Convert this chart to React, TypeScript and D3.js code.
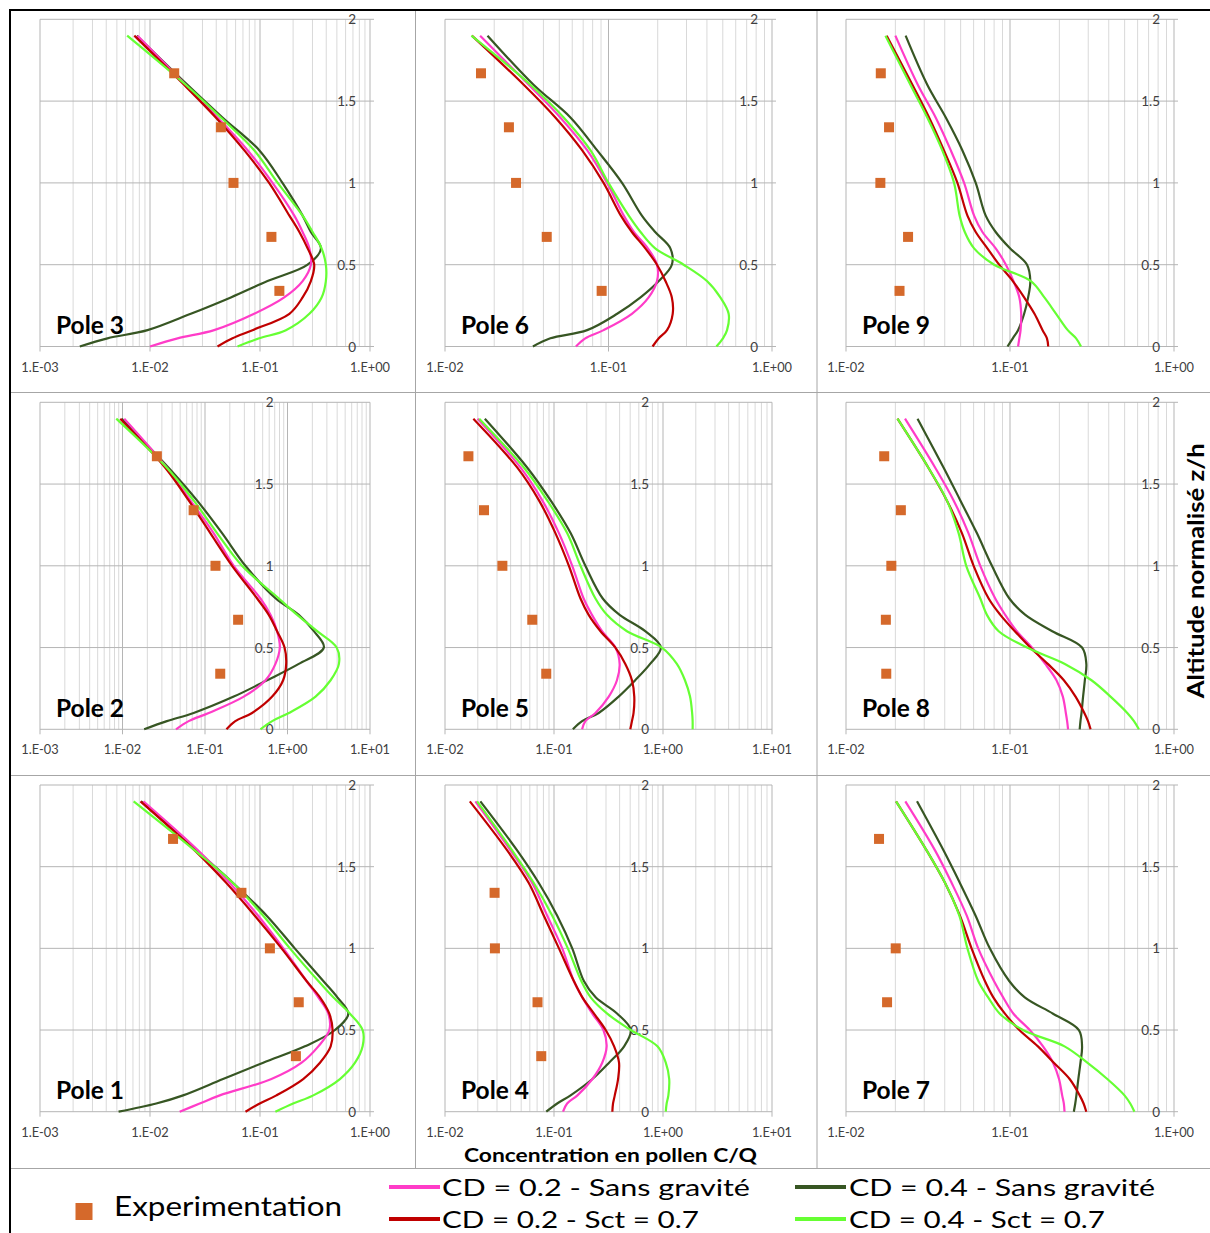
import React from "react";
import * as d3 from "d3";

// ---------- DATA ----------
// Altitude levels (z/h) at which the simulated profiles were read
const ALTITUDES = [0, 0.05, 0.1, 0.2, 0.3, 0.4, 0.5, 0.6, 0.7, 0.8, 1.0, 1.2, 1.4, 1.6, 1.9];
// Altitudes of the experimental measurements
const EXP_ALTITUDES = [0.34, 0.67, 1.0, 1.34, 1.67];

const SERIES_NAMES = [
  "CD = 0.2 - Sans gravité",
  "CD = 0.4 - Sans gravité",
  "CD = 0.2 - Sct = 0.7",
  "CD = 0.4 - Sct = 0.7",
];
const EXP_NAME = "Experimentation";

// Pole 3
const POLE3_CD02_SANS = [0.0100, 0.0178, 0.0383, 0.0885, 0.166, 0.244, 0.290, 0.281, 0.244, 0.205, 0.130, 0.0771, 0.0411, 0.0211, 0.0077];
const POLE3_CD04_SANS = [0.0023, 0.0041, 0.0095, 0.0235, 0.0543, 0.117, 0.271, 0.358, 0.290, 0.244, 0.160, 0.0984, 0.0456, 0.0219, 0.0076];
const POLE3_CD02_SCT = [0.0411, 0.0563, 0.0855, 0.185, 0.244, 0.290, 0.311, 0.271, 0.228, 0.185, 0.121, 0.0718, 0.0396, 0.0204, 0.0072];
const POLE3_CD04_SCT = [0.0625, 0.0984, 0.172, 0.281, 0.363, 0.397, 0.397, 0.363, 0.301, 0.244, 0.145, 0.0885, 0.0441, 0.0211, 0.0062];
const POLE3_EXP = [0.150, 0.127, 0.0574, 0.0441, 0.0166];

// Pole 6
const POLE6_CD02_SANS = [0.0632, 0.0721, 0.0933, 0.139, 0.176, 0.198, 0.198, 0.174, 0.143, 0.124, 0.0980, 0.0740, 0.0507, 0.0325, 0.0164];
const POLE6_CD04_SANS = [0.0345, 0.0441, 0.0740, 0.113, 0.157, 0.203, 0.244, 0.239, 0.193, 0.160, 0.121, 0.0851, 0.0585, 0.0348, 0.0182];
const POLE6_CD02_SCT = [0.186, 0.203, 0.228, 0.247, 0.244, 0.223, 0.198, 0.168, 0.139, 0.119, 0.0933, 0.0689, 0.0473, 0.0303, 0.0146];
const POLE6_CD04_SCT = [0.457, 0.501, 0.531, 0.543, 0.483, 0.400, 0.288, 0.193, 0.157, 0.133, 0.100, 0.0775, 0.0532, 0.0333, 0.0145];
const POLE6_EXP = [0.0908, 0.0419, 0.0272, 0.0246, 0.0166];

// Pole 9
const POLE9_CD02_SANS = [0.112, 0.114, 0.116, 0.117, 0.114, 0.105, 0.0944, 0.0818, 0.0679, 0.0604, 0.0525, 0.0435, 0.0352, 0.0274, 0.0200];
const POLE9_CD04_SANS = [0.0966, 0.104, 0.112, 0.122, 0.129, 0.133, 0.127, 0.100, 0.0818, 0.0711, 0.0618, 0.0512, 0.0406, 0.0313, 0.0231];
const POLE9_CD02_SCT = [0.171, 0.168, 0.158, 0.141, 0.122, 0.104, 0.0859, 0.0728, 0.0618, 0.0550, 0.0478, 0.0395, 0.0321, 0.0254, 0.0177];
const POLE9_CD04_SCT = [0.271, 0.253, 0.225, 0.191, 0.162, 0.134, 0.0800, 0.0604, 0.0530, 0.0493, 0.0456, 0.0386, 0.0313, 0.0247, 0.0174];
const POLE9_EXP = [0.0212, 0.0239, 0.0162, 0.0183, 0.0163];

// Pole 2
const POLE2_CD02_SANS = [0.0445, 0.0634, 0.111, 0.295, 0.541, 0.714, 0.807, 0.748, 0.622, 0.470, 0.223, 0.127, 0.0664, 0.0345, 0.0105];
const POLE2_CD04_SANS = [0.0183, 0.0345, 0.0728, 0.223, 0.566, 1.37, 2.76, 2.09, 1.37, 0.721, 0.309, 0.161, 0.0800, 0.0362, 0.0098];
const POLE2_CD02_SCT = [0.182, 0.233, 0.372, 0.652, 0.885, 0.964, 0.921, 0.748, 0.593, 0.429, 0.213, 0.116, 0.0634, 0.0330, 0.0094];
const POLE2_CD04_SCT = [0.470, 0.652, 1.04, 2.19, 3.33, 4.20, 3.94, 2.29, 1.31, 0.786, 0.281, 0.140, 0.0728, 0.0345, 0.0084];
const POLE2_EXP = [0.153, 0.252, 0.134, 0.0728, 0.0261];

// Pole 5
const POLE5_CD02_SANS = [0.181, 0.194, 0.240, 0.318, 0.378, 0.400, 0.366, 0.276, 0.223, 0.187, 0.147, 0.111, 0.0780, 0.0494, 0.0199];
const POLE5_CD04_SANS = [0.149, 0.181, 0.257, 0.392, 0.556, 0.762, 0.955, 0.687, 0.400, 0.280, 0.194, 0.142, 0.0931, 0.0569, 0.0232];
const POLE5_CD02_SCT = [0.501, 0.519, 0.537, 0.545, 0.519, 0.451, 0.366, 0.267, 0.208, 0.175, 0.137, 0.103, 0.0728, 0.0461, 0.0182];
const POLE5_CD04_SCT = [1.87, 1.87, 1.85, 1.77, 1.59, 1.34, 0.975, 0.467, 0.306, 0.240, 0.175, 0.132, 0.0867, 0.0531, 0.0206];
const POLE5_EXP = [0.0849, 0.0632, 0.0336, 0.0228, 0.0164];

// Pole 8
const POLE8_CD02_SANS = [0.226, 0.223, 0.219, 0.210, 0.192, 0.164, 0.136, 0.110, 0.0935, 0.0813, 0.0659, 0.0558, 0.0453, 0.0350, 0.0229];
const POLE8_CD04_SANS = [0.266, 0.269, 0.273, 0.279, 0.286, 0.292, 0.275, 0.181, 0.124, 0.0991, 0.0776, 0.0628, 0.0498, 0.0394, 0.0273];
const POLE8_CD02_SCT = [0.310, 0.299, 0.284, 0.251, 0.213, 0.170, 0.133, 0.107, 0.0873, 0.0741, 0.0600, 0.0509, 0.0412, 0.0318, 0.0206];
const POLE8_CD04_SCT = [0.611, 0.570, 0.519, 0.410, 0.314, 0.216, 0.127, 0.0853, 0.0723, 0.0659, 0.0541, 0.0486, 0.0412, 0.0318, 0.0206];
const POLE8_EXP = [0.0176, 0.0175, 0.0189, 0.0216, 0.0171];

// Pole 1
const POLE1_CD02_SANS = [0.0186, 0.0283, 0.0431, 0.127, 0.239, 0.339, 0.427, 0.418, 0.339, 0.265, 0.163, 0.0962, 0.0531, 0.0273, 0.0087];
const POLE1_CD04_SANS = [0.00518, 0.0114, 0.0200, 0.0461, 0.107, 0.256, 0.480, 0.635, 0.505, 0.376, 0.207, 0.115, 0.0569, 0.0264, 0.0083];
const POLE1_CD02_SCT = [0.0738, 0.0995, 0.141, 0.247, 0.351, 0.439, 0.457, 0.427, 0.351, 0.265, 0.157, 0.0897, 0.0495, 0.0255, 0.0082];
const POLE1_CD04_SCT = [0.138, 0.200, 0.305, 0.533, 0.731, 0.857, 0.857, 0.658, 0.464, 0.339, 0.187, 0.107, 0.0569, 0.0255, 0.0071];
const POLE1_EXP = [0.212, 0.225, 0.123, 0.0678, 0.0162];

// Pole 4
const POLE4_CD02_SANS = [0.121, 0.132, 0.164, 0.225, 0.277, 0.304, 0.284, 0.225, 0.182, 0.152, 0.119, 0.0867, 0.0631, 0.0399, 0.0190];
const POLE4_CD04_SANS = [0.0849, 0.107, 0.142, 0.225, 0.320, 0.440, 0.506, 0.381, 0.241, 0.188, 0.147, 0.107, 0.0726, 0.0459, 0.0211];
const POLE4_CD02_SCT = [0.343, 0.348, 0.361, 0.387, 0.395, 0.356, 0.298, 0.233, 0.182, 0.152, 0.111, 0.0807, 0.0587, 0.0372, 0.0169];
const POLE4_CD04_SCT = [1.06, 1.08, 1.12, 1.14, 1.06, 0.889, 0.506, 0.308, 0.217, 0.178, 0.134, 0.0964, 0.0653, 0.0413, 0.0197];
const POLE4_EXP = [0.0764, 0.0706, 0.0287, 0.0285, null];

// Pole 7
const POLE7_CD02_SANS = [0.215, 0.213, 0.208, 0.199, 0.183, 0.159, 0.132, 0.105, 0.0908, 0.0798, 0.0640, 0.0545, 0.0441, 0.0349, 0.0230];
const POLE7_CD04_SANS = [0.245, 0.250, 0.254, 0.261, 0.269, 0.275, 0.263, 0.183, 0.123, 0.0989, 0.0753, 0.0617, 0.0495, 0.0393, 0.0271];
const POLE7_CD02_SCT = [0.292, 0.281, 0.266, 0.231, 0.185, 0.148, 0.114, 0.0931, 0.0791, 0.0703, 0.0583, 0.0495, 0.0402, 0.0310, 0.0202];
const POLE7_CD04_SCT = [0.574, 0.541, 0.499, 0.392, 0.296, 0.215, 0.120, 0.0867, 0.0736, 0.0640, 0.0550, 0.0491, 0.0402, 0.0310, 0.0202];
const POLE7_EXP = [null, 0.0178, 0.0201, null, 0.0159];

// Panel names and x-axis decades (exponent min, max), in grid order
const PANEL_NAMES = ["Pole 3", "Pole 6", "Pole 9", "Pole 2", "Pole 5", "Pole 8", "Pole 1", "Pole 4", "Pole 7"];
const PANEL_DECADES = [[-3, 0], [-2, 0], [-2, 0], [-3, 1], [-2, 1], [-2, 0], [-3, 0], [-2, 1], [-2, 0]];
const Y_TICKS = [0, 0.5, 1, 1.5, 2];

const PANEL_SERIES = [
  [POLE3_CD02_SANS, POLE3_CD04_SANS, POLE3_CD02_SCT, POLE3_CD04_SCT],
  [POLE6_CD02_SANS, POLE6_CD04_SANS, POLE6_CD02_SCT, POLE6_CD04_SCT],
  [POLE9_CD02_SANS, POLE9_CD04_SANS, POLE9_CD02_SCT, POLE9_CD04_SCT],
  [POLE2_CD02_SANS, POLE2_CD04_SANS, POLE2_CD02_SCT, POLE2_CD04_SCT],
  [POLE5_CD02_SANS, POLE5_CD04_SANS, POLE5_CD02_SCT, POLE5_CD04_SCT],
  [POLE8_CD02_SANS, POLE8_CD04_SANS, POLE8_CD02_SCT, POLE8_CD04_SCT],
  [POLE1_CD02_SANS, POLE1_CD04_SANS, POLE1_CD02_SCT, POLE1_CD04_SCT],
  [POLE4_CD02_SANS, POLE4_CD04_SANS, POLE4_CD02_SCT, POLE4_CD04_SCT],
  [POLE7_CD02_SANS, POLE7_CD04_SANS, POLE7_CD02_SCT, POLE7_CD04_SCT],
];
const PANEL_EXP = [POLE3_EXP, POLE6_EXP, POLE9_EXP, POLE2_EXP, POLE5_EXP, POLE8_EXP, POLE1_EXP, POLE4_EXP, POLE7_EXP];

// ---------- STYLE / LAYOUT ----------
const W = 1210;
const H = 1233;
const FONT = "Lato, 'Open Sans', sans-serif";
const COLORS = ["#ff3cc8", "#375623", "#c00000", "#66ff33"];
const EXP_COLOR = "#d5692b";
const COLS = [
  { x0: 40, x1: 370 },
  { x0: 445, x1: 772 },
  { x0: 846, x1: 1174 },
];
const ROWS = [
  { top: 19.3, bottom: 346.5 },
  { top: 402.3, bottom: 729.3 },
  { top: 785, bottom: 1111.7 },
];
const DRAW_ORDER = [1, 0, 2, 3];

function fmtTick(e: number) {
  const s = String(Math.abs(e)).padStart(2, "0");
  return `1.E${e < 0 ? "-" : "+"}${s}`;
}

function Panel({ idx }: { idx: number }) {
  const row = Math.floor(idx / 3);
  const col = idx % 3;
  const { x0, x1 } = COLS[col];
  const { top, bottom } = ROWS[row];
  const [eMin, eMax] = PANEL_DECADES[idx];
  const x = d3.scaleLog().domain([Math.pow(10, eMin), Math.pow(10, eMax)]).range([x0, x1]);
  const y = d3.scaleLinear().domain([0, 2]).range([bottom, top]);

  const minor: number[] = [];
  const major: number[] = [];
  for (let e = eMin; e <= eMax; e++) {
    major.push(Math.pow(10, e));
    if (e < eMax) for (let k = 2; k <= 9; k++) minor.push(k * Math.pow(10, e));
  }
  const xAxisPos = x(1);
  const line = d3
    .line<[number, number]>()
    .x((d) => x(d[0]))
    .y((d) => y(d[1]))
    .curve(d3.curveCatmullRom.alpha(0.5));

  const series = PANEL_SERIES[idx];
  const exp = PANEL_EXP[idx];
  return (
    <g>
      {minor.map((v, i) => (
        <line key={"mi" + i} x1={x(v)} x2={x(v)} y1={y(0)} y2={y(2)} stroke="#d9d9d9" strokeWidth={1} />
      ))}
      {Y_TICKS.map((t) => (
        <line key={"h" + t} x1={x0} x2={Math.max(x1, xAxisPos + 4)} y1={y(t)} y2={y(t)} stroke="#b5b5b5" strokeWidth={1} />
      ))}
      {major.map((v, i) => (
        <line key={"ma" + i} x1={x(v)} x2={x(v)} y1={y(0) + 5} y2={y(2)} stroke="#b5b5b5" strokeWidth={1} />
      ))}
      {major.map((v, i) => (
        <text
          key={"xl" + i}
          x={x(v)}
          y={y(0) + 20}
          textAnchor="middle"
          dominantBaseline="central"
          fontFamily={FONT}
          fontSize={12.8}
          fill="#404040"
        >
          {fmtTick(eMin + i)}
        </text>
      ))}
      {Y_TICKS.map((t) => (
        <text
          key={"yl" + t}
          x={xAxisPos - 14}
          y={y(t)}
          textAnchor="end"
          dominantBaseline="central"
          fontFamily={FONT}
          fontSize={13.5}
          fill="#404040"
        >
          {String(t)}
        </text>
      ))}
      {DRAW_ORDER.map((s) => (
        <path
          key={"s" + s}
          d={line(ALTITUDES.map((z, i) => [series[s][i], z] as [number, number])) || ""}
          fill="none"
          stroke={COLORS[s]}
          strokeWidth={2.2}
        />
      ))}
      {exp.map((v, i) =>
        v == null ? null : (
          <rect key={"e" + i} x={x(v) - 5} y={y(EXP_ALTITUDES[i]) - 5} width={10} height={10} fill={EXP_COLOR} />
        )
      )}
      <text x={x0 + 16} y={bottom - 12.5} fontFamily={FONT} fontWeight={700} fontSize={24.5} fill="#000">
        {PANEL_NAMES[idx]}
      </text>
    </g>
  );
}

export default function App() {
  const legendRows = [
    { s: 0, lx: 389, ty: 1187, tx: 442, len: 308 },
    { s: 2, lx: 389, ty: 1219, tx: 442, len: 257 },
    { s: 1, lx: 795, ty: 1187, tx: 849, len: 306 },
    { s: 3, lx: 795, ty: 1219, tx: 849, len: 256 },
  ];
  return (
    <svg
      width={W}
      height={H}
      viewBox={`0 0 ${W} ${H}`}
      style={{ position: "absolute", left: 0, top: 0, background: "#fff" }}
    >
      <rect x={0} y={0} width={W} height={H} fill="#fff" />
      {/* cell separators */}
      <line x1={415.5} x2={415.5} y1={10} y2={1168.5} stroke="#a6a6a6" strokeWidth={1} />
      <line x1={817} x2={817} y1={10} y2={1168.5} stroke="#a6a6a6" strokeWidth={1} />
      <line x1={10} x2={W} y1={392.5} y2={392.5} stroke="#a6a6a6" strokeWidth={1} />
      <line x1={10} x2={W} y1={775.5} y2={775.5} stroke="#a6a6a6" strokeWidth={1} />
      <line x1={10} x2={W} y1={1168.5} y2={1168.5} stroke="#a6a6a6" strokeWidth={1} />
      {/* outer black frame */}
      <line x1={9} x2={W} y1={10} y2={10} stroke="#000" strokeWidth={2} />
      <line x1={10} x2={10} y1={9} y2={H} stroke="#000" strokeWidth={2} />

      {PANEL_NAMES.map((_, i) => (
        <Panel key={i} idx={i} />
      ))}

      {/* axis titles */}
      <text
        x={464}
        y={1161.7}
        fontFamily={FONT}
        fontWeight={700}
        fontSize={18.6}
        textLength={293}
        lengthAdjust="spacingAndGlyphs"
        fill="#000"
      >
        Concentration en pollen C/Q
      </text>
      <text
        transform="translate(1204,570.8) rotate(-90)"
        textAnchor="middle"
        fontFamily={FONT}
        fontWeight={700}
        fontSize={23}
        textLength={255}
        lengthAdjust="spacingAndGlyphs"
        fill="#000"
      >
        Altitude normalisé z/h
      </text>

      {/* legend */}
      <rect x={75.5} y={1203} width={17} height={17} fill={EXP_COLOR} />
      <text
        x={114}
        y={1215.5}
        fontFamily={FONT}
        fontSize={27}
        textLength={228}
        lengthAdjust="spacingAndGlyphs"
        fill="#000"
      >
        {EXP_NAME}
      </text>
      {legendRows.map((r) => (
        <g key={r.s}>
          <line x1={r.lx} x2={r.lx + 51} y1={r.ty} y2={r.ty} stroke={COLORS[r.s]} strokeWidth={4} />
          <text
            x={r.tx}
            y={r.ty + 8.5}
            fontFamily={FONT}
            fontSize={24}
            textLength={r.len}
            lengthAdjust="spacingAndGlyphs"
            fill="#000"
          >
            {SERIES_NAMES[r.s]}
          </text>
        </g>
      ))}
    </svg>
  );
}
